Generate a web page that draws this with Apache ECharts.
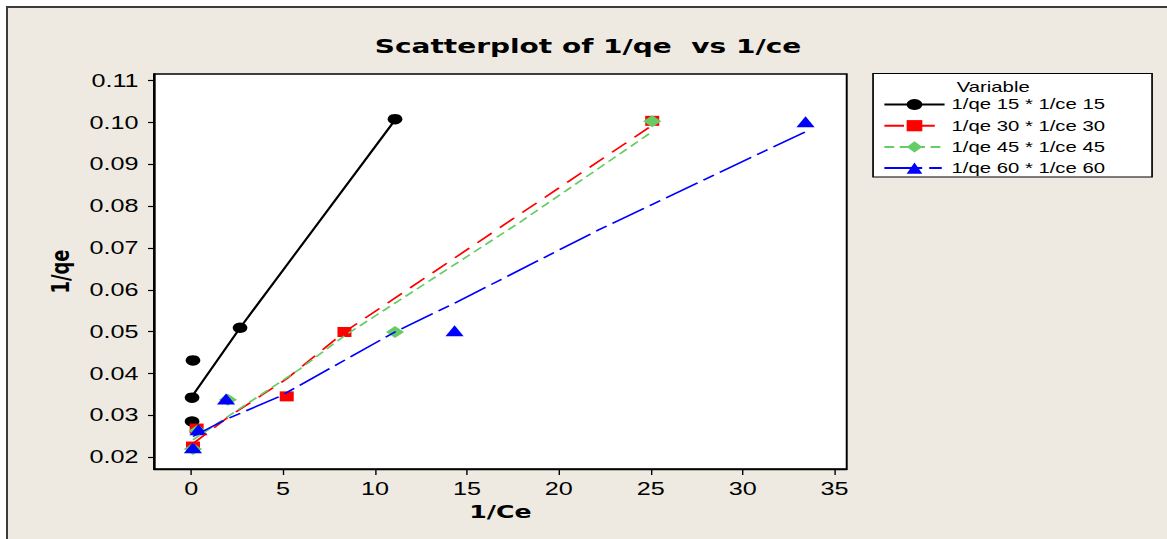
<!DOCTYPE html>
<html>
<head>
<meta charset="utf-8">
<script src="https://cdn.jsdelivr.net/npm/echarts@6/dist/echarts.min.js"></script>
<style>
  html, body { margin: 0; padding: 0; background: #ffffff; overflow: hidden; }
  #panel {
    position: absolute; left: 6px; top: 6px; right: 0; bottom: 0;
    background: #EEEAE1; border-top: 2px solid #3c3c3c; border-left: 2px solid #3c3c3c;
  }
  /* the chart is laid out at a narrower width and widened horizontally */
  #chart {
    position: absolute; left: 0; top: 0; width: 833.57px; height: 539px;
    transform: scaleX(1.4); transform-origin: 0 0;
  }
</style>
</head>
<body>
<div id="panel"></div>
<div id="chart"></div>
<script>
// 1/Ce (x) and 1/qe (y) observations per group
const seriesNames = ['1/qe 15 * 1/ce 15', '1/qe 30 * 1/ce 30', '1/qe 45 * 1/ce 45', '1/qe 60 * 1/ce 60'];
const invCe15 = [0.05, 0.05, 0.1, 2.66, 11.09];
const invQe15 = [0.0285, 0.0342, 0.0431, 0.0509, 0.1008];
const invCe30 = [0.1, 0.3, 5.2, 8.34, 25.08];
const invQe30 = [0.0225, 0.0268, 0.0345, 0.0499, 0.1004];
const invCe45 = [0.1, 0.35, 2.0, 11.09, 25.08];
const invQe45 = [0.0219, 0.0263, 0.0337, 0.0499, 0.1003];
const invCe60 = [0.1, 0.4, 1.9, 14.33, 33.42];
const invQe60 = [0.0222, 0.0265, 0.0339, 0.0502, 0.1002];

// smoothed trend for each group
const fitX15 = [0.05, 2.66, 11.09];
const fitY15 = [0.0345, 0.0509, 0.1006];
const fitX30 = [0.1, 2.0, 5.2, 8.34, 24.9];
const fitY30 = [0.0232, 0.0295, 0.0387, 0.0499, 0.0988];
const fitX45 = [0.1, 2.0, 5.9, 8.34, 11.09, 17.8, 25.08];
const fitY45 = [0.0241, 0.0297, 0.041, 0.049, 0.0568, 0.0759, 0.0978];
const fitX60 = [0.1, 1.9, 4.83, 11.09, 14.33, 22.16, 33.42];
const fitY60 = [0.0249, 0.029, 0.0345, 0.0499, 0.0568, 0.0743, 0.0978];

const xTicks = [0, 5, 10, 15, 20, 25, 30, 35];
const yTicks = [0.02, 0.03, 0.04, 0.05, 0.06, 0.07, 0.08, 0.09, 0.10, 0.11];

const zip = (xs, ys) => xs.map((x, i) => [x, ys[i]]);

const groups = [
  { name: seriesNames[0], px: invCe15, py: invQe15, fx: fitX15, fy: fitY15,
    color: '#000000', symbol: 'circle', size: 10.5, dash: 'solid', width: 1.7 },
  { name: seriesNames[1], px: invCe30, py: invQe30, fx: fitX30, fy: fitY30,
    color: '#FF0000', symbol: 'rect', size: 10, dash: [14, 8], width: 1.5 },
  { name: seriesNames[2], px: invCe45, py: invQe45, fx: fitX45, fy: fitY45,
    color: '#66CC66', symbol: 'diamond', size: [13, 12], dash: [7, 4], width: 1.5 },
  { name: seriesNames[3], px: invCe60, py: invQe60, fx: fitX60, fy: fitY60,
    color: '#0000FF', symbol: 'triangle', size: [13, 11], dash: [27, 5, 9, 5], width: 1.5 }
];

const series = [];
groups.forEach(g => {
  series.push({
    name: g.name, type: 'line', data: zip(g.fx, g.fy),
    symbol: g.symbol, showSymbol: false, silent: true,
    lineStyle: { color: g.color, width: g.width, type: g.dash },
    itemStyle: { color: g.color }
  });
});
groups.forEach(g => {
  series.push({
    name: g.name, type: 'scatter', data: zip(g.px, g.py),
    symbol: g.symbol, symbolSize: g.size,
    itemStyle: { color: g.color, opacity: 1 }
  });
});

const tickFont = 'Liberation Sans, Arial, sans-serif';
const boldFont = 'DejaVu Sans, Verdana, sans-serif';

const chart = echarts.init(document.getElementById('chart'), null, { renderer: 'svg' });
chart.setOption({
  animation: false,
  backgroundColor: 'transparent',
  title: [
    { text: 'Scatterplot of 1/qe  vs 1/ce', left: 420, top: 36, textAlign: 'center', padding: 0,
      textStyle: { fontFamily: boldFont, fontWeight: 'bold', fontSize: 20, color: '#000' } },
    { text: 'Variable', left: 683.4, top: 80, padding: 0,
      textStyle: { fontFamily: tickFont, fontWeight: 'normal', fontSize: 14.5, color: '#000' } }
  ],
  grid: { left: 110, top: 74, width: 494.8, height: 395, show: true,
          backgroundColor: '#ffffff', borderColor: '#000', borderWidth: 1.4 },
  legend: {
    orient: 'vertical', left: 630.7, top: 97, padding: 0,
    itemWidth: 43, itemHeight: 14, itemGap: 6.2,
    textStyle: { fontFamily: tickFont, fontSize: 14.5, color: '#000', lineHeight: 14 },
    data: seriesNames
  },
  graphic: [{
    type: 'rect', shape: { x: 623.6, y: 73.5, width: 199.3, height: 103.5 },
    style: { fill: '#ffffff', stroke: '#000', lineWidth: 1.2 }, z: -1, silent: true
  }],
  xAxis: {
    type: 'value', min: -2.02, max: 35.66,
    name: '1/Ce', nameLocation: 'middle', nameGap: 33,
    nameTextStyle: { fontFamily: boldFont, fontWeight: 'bold', fontSize: 18, color: '#000' },
    axisLine: { show: true, onZero: false, lineStyle: { color: '#000', width: 1.4 } },
    axisTick: { show: true, length: 6, lineStyle: { color: '#000', width: 1 }, customValues: xTicks },
    axisLabel: { customValues: xTicks, margin: 11, fontFamily: tickFont, fontSize: 18, color: '#000' },
    splitLine: { show: false }
  },
  yAxis: {
    type: 'value', min: 0.01713, max: 0.1116,
    name: '1/qe', nameLocation: 'middle', nameGap: 58, nameRotate: 90,
    nameTextStyle: { fontFamily: boldFont, fontWeight: 'bold', fontSize: 18, color: '#000' },
    axisLine: { show: true, onZero: false, lineStyle: { color: '#000', width: 1.4 } },
    axisTick: { show: true, length: 4.3, lineStyle: { color: '#000', width: 1.2 }, customValues: yTicks },
    axisLabel: { customValues: yTicks, margin: 11, fontFamily: tickFont, fontSize: 18, color: '#000',
                 formatter: v => v.toFixed(2) },
    splitLine: { show: false }
  },
  series: series
});
</script>
</body>
</html>
